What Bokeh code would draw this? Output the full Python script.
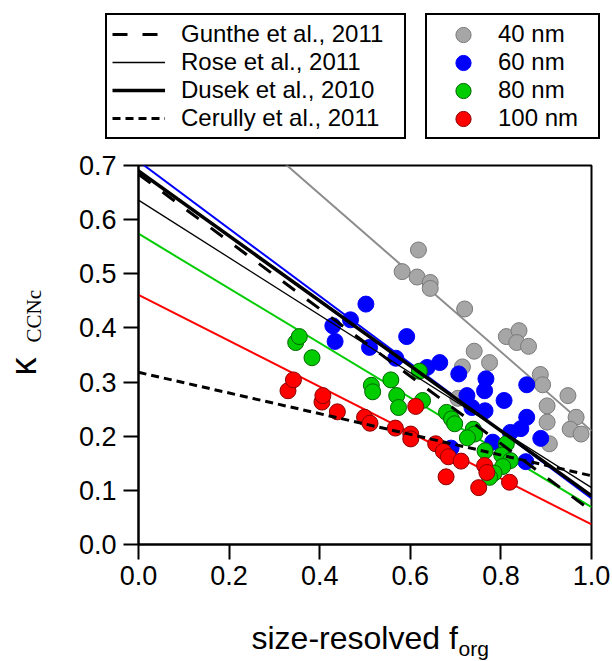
import numpy as np
from bokeh.plotting import figure
from bokeh.layouts import column, row
from bokeh.models import (Legend, LegendItem, Label, FixedTicker,
                          NumeralTickFormatter, Range1d)
from bokeh.embed import file_html
from bokeh.resources import INLINE

# ---------------- data ----------------
forg_40 = [0.582, 0.618, 0.615, 0.644, 0.644, 0.720, 0.741, 0.775, 0.715, 0.705,
           0.812, 0.840, 0.835, 0.861, 0.887, 0.892, 0.948, 0.902, 0.966, 0.902,
           0.953, 0.977, 0.907]
kappa_40 = [0.504, 0.544, 0.494, 0.484, 0.473, 0.435, 0.357, 0.336, 0.328, 0.270,
            0.384, 0.395, 0.373, 0.366, 0.314, 0.295, 0.275, 0.256, 0.235, 0.226,
            0.213, 0.204, 0.186]

forg_60 = [0.429, 0.434, 0.468, 0.502, 0.510, 0.568, 0.592, 0.637, 0.665, 0.707,
           0.767, 0.764, 0.725, 0.857, 0.807, 0.765, 0.736, 0.857, 0.844, 0.821,
           0.888, 0.782, 0.855, 0.690]
kappa_60 = [0.404, 0.375, 0.415, 0.444, 0.364, 0.344, 0.384, 0.327, 0.336, 0.315,
            0.306, 0.284, 0.275, 0.295, 0.266, 0.247, 0.253, 0.235, 0.214, 0.207,
            0.196, 0.189, 0.153, 0.178]

forg_80 = [0.347, 0.355, 0.383, 0.514, 0.517, 0.557, 0.570, 0.574, 0.627, 0.620,
           0.680, 0.691, 0.698, 0.739, 0.742, 0.726, 0.765, 0.812, 0.802, 0.821,
           0.804, 0.785, 0.775]
kappa_80 = [0.373, 0.384, 0.345, 0.294, 0.282, 0.304, 0.275, 0.253, 0.266, 0.320,
            0.244, 0.232, 0.223, 0.213, 0.204, 0.197, 0.173, 0.186, 0.165, 0.155,
            0.144, 0.132, 0.124]

forg_100 = [0.330, 0.342, 0.405, 0.407, 0.439, 0.499, 0.511, 0.567, 0.601, 0.601,
            0.612, 0.656, 0.673, 0.684, 0.712, 0.679, 0.764, 0.769, 0.751, 0.819]
kappa_100 = [0.284, 0.304, 0.263, 0.275, 0.245, 0.235, 0.224, 0.215, 0.204, 0.195,
             0.255, 0.186, 0.172, 0.162, 0.154, 0.125, 0.146, 0.133, 0.105, 0.115]

# fitted lines (kappa at forg = 0 and forg = 1)
fit_x = [0.0, 1.0]
fit_40 = [0.939, 0.210]
fit_60 = [0.708, 0.085]
fit_80 = [0.574, 0.069]
fit_100 = [0.461, 0.037]

# literature parameterisations
gunthe_2011 = [0.684, 0.062]
rose_2011 = [0.636, 0.105]
dusek_2010 = [0.690, 0.090]
cerully_2011 = [0.318, 0.127]

x_ticks = [0.0, 0.2, 0.4, 0.6, 0.8, 1.0]
y_ticks = [0.0, 0.1, 0.2, 0.3, 0.4, 0.5, 0.6, 0.7]

size_labels = ["40 nm", "60 nm", "80 nm", "100 nm"]
lit_labels = ["Gunthe et al., 2011", "Rose et al., 2011",
              "Dusek et al., 2010", "Cerully et al., 2011"]

# ---------------- styles ----------------
FONT = "Liberation Sans"
size_styles = [
    dict(fill_color="#a6a6a6", line_color="#7a7a7a"),
    dict(fill_color="#0000ff", line_color="#0000ff"),
    dict(fill_color="#00cc00", line_color="#006600"),
    dict(fill_color="#ff0000", line_color="#8a0000"),
]
fit_colors = ["#8c8c8c", "#0000ff", "#00cc00", "#ff0000"]
lit_styles = [
    dict(line_color="black", line_width=3, line_dash="15 15"),
    dict(line_color="black", line_width=1.3),
    dict(line_color="black", line_width=3.5),
    dict(line_color="black", line_width=3, line_dash="8 5"),
]


def blank_fig(w, h, x_range, y_range):
    f = figure(width=w, height=h, title=None,
               x_range=x_range, y_range=y_range,
               output_backend="svg", toolbar_location=None,
               x_axis_location=None, y_axis_location=None,
               min_border=0, min_border_left=0, min_border_right=0,
               min_border_top=0, min_border_bottom=0)
    f.outline_line_color = None
    f.grid.visible = False
    f.background_fill_color = "white"
    f.border_fill_color = "white"
    return f


# ---------------- main plot ----------------
p = figure(width=552, height=461, title=None,
           x_range=Range1d(0, 1.0), y_range=Range1d(0, 0.7),
           output_backend="svg", toolbar_location=None,
           min_border_left=78, min_border_right=21,
           min_border_top=20, min_border_bottom=62)
p.background_fill_color = "white"
p.border_fill_color = "white"
p.outline_line_color = "black"
p.outline_line_width = 2
p.outline_line_alpha = 1.0
p.grid.visible = False

p.xaxis.ticker = FixedTicker(ticks=x_ticks)
p.yaxis.ticker = FixedTicker(ticks=y_ticks)
p.xaxis.formatter = NumeralTickFormatter(format="0.0")
p.yaxis.formatter = NumeralTickFormatter(format="0.0")
for ax in (p.xaxis[0], p.yaxis[0]):
    ax.axis_line_color = "black"
    ax.axis_line_width = 2
    ax.major_tick_line_color = "black"
    ax.major_tick_line_width = 2
    ax.major_tick_out = 15
    ax.major_tick_in = 0
    ax.minor_tick_out = 0
    ax.minor_tick_in = 0
    ax.major_label_text_font = FONT
    ax.major_label_text_font_size = "27px"
    ax.major_label_text_color = "black"
p.xaxis.major_label_standoff = 6
p.yaxis.major_label_standoff = 7

for fy, c in zip([fit_40, fit_60, fit_80, fit_100], fit_colors):
    p.line(fit_x, fy, line_color=c, line_width=2)

forg_sets = [forg_40, forg_60, forg_80, forg_100]
kappa_sets = [kappa_40, kappa_60, kappa_80, kappa_100]
for fx, ky, st in zip(forg_sets, kappa_sets, size_styles):
    p.scatter(fx, ky, size=16, line_width=1, **st)

lit_sets = [gunthe_2011, rose_2011, dusek_2010, cerully_2011]
for ly, st in zip(lit_sets, lit_styles):
    p.line(fit_x, ly, **st)

# ---------------- legends (own panel above the plot) ----------------
# the legend panel's y range keeps its proxy copies of the data out of view
leg_fig = blank_fig(612, 145, Range1d(0, 612), Range1d(-1000, -855))
lit_proxies = [leg_fig.line(fit_x, ly, **st) for ly, st in zip(lit_sets, lit_styles)]
size_proxies = [leg_fig.ellipse(fx, ky, width=16, height=16,
                                width_units="screen", height_units="screen",
                                line_width=1, **st)
                for fx, ky, st in zip(forg_sets, kappa_sets, size_styles)]

common = dict(orientation="vertical", margin=0, padding=5, spacing=0,
              label_text_font=FONT, label_text_font_size="24px",
              label_text_color="black", label_height=28,
              border_line_color="black", border_line_width=2,
              border_line_alpha=1.0,
              background_fill_color="white", background_fill_alpha=1.0)
leg1 = Legend(items=[LegendItem(label=l, renderers=[r]) for l, r in zip(lit_labels, lit_proxies)],
              location=(105, 6), glyph_width=53, glyph_height=28,
              label_standoff=16, label_width=218, **common)
leg2 = Legend(items=[LegendItem(label=l, renderers=[r]) for l, r in zip(size_labels, size_proxies)],
              location=(425, 6), glyph_width=62, glyph_height=19,
              label_standoff=4, label_width=95, **common)
leg_fig.add_layout(leg1)
leg_fig.add_layout(leg2)

# ---------------- y axis title (panel frame is aligned with the plot frame) ----------------
ylab = blank_fig(60, 461, Range1d(0, 60), Range1d(0, 379))
ylab.add_layout(Label(x=43.5, y=169, text="κ", text_font=FONT,
                      text_font_size="36px", text_color="black", angle=np.pi / 2,
                      text_align="left", text_baseline="bottom"))
ylab.add_layout(Label(x=45.5, y=202, text="CCNc", text_font="Liberation Serif",
                      text_font_size="21px", text_color="black", angle=np.pi / 2,
                      text_align="left", text_baseline="bottom"))

# ---------------- x axis title ----------------
xlab = blank_fig(612, 55, Range1d(0, 612), Range1d(0, 55))
xlab.add_layout(Label(x=251, y=6, text="size-resolved f", text_font=FONT,
                      text_font_size="32px", text_color="black",
                      text_align="left", text_baseline="bottom"))
xlab.add_layout(Label(x=458, y=1.5, text="org", text_font=FONT,
                      text_font_size="21px", text_color="black",
                      text_align="left", text_baseline="bottom"))

layout = column(leg_fig, row(ylab, p, spacing=0), xlab, spacing=0)

open("out.html", "w").write(file_html(layout, INLINE))
